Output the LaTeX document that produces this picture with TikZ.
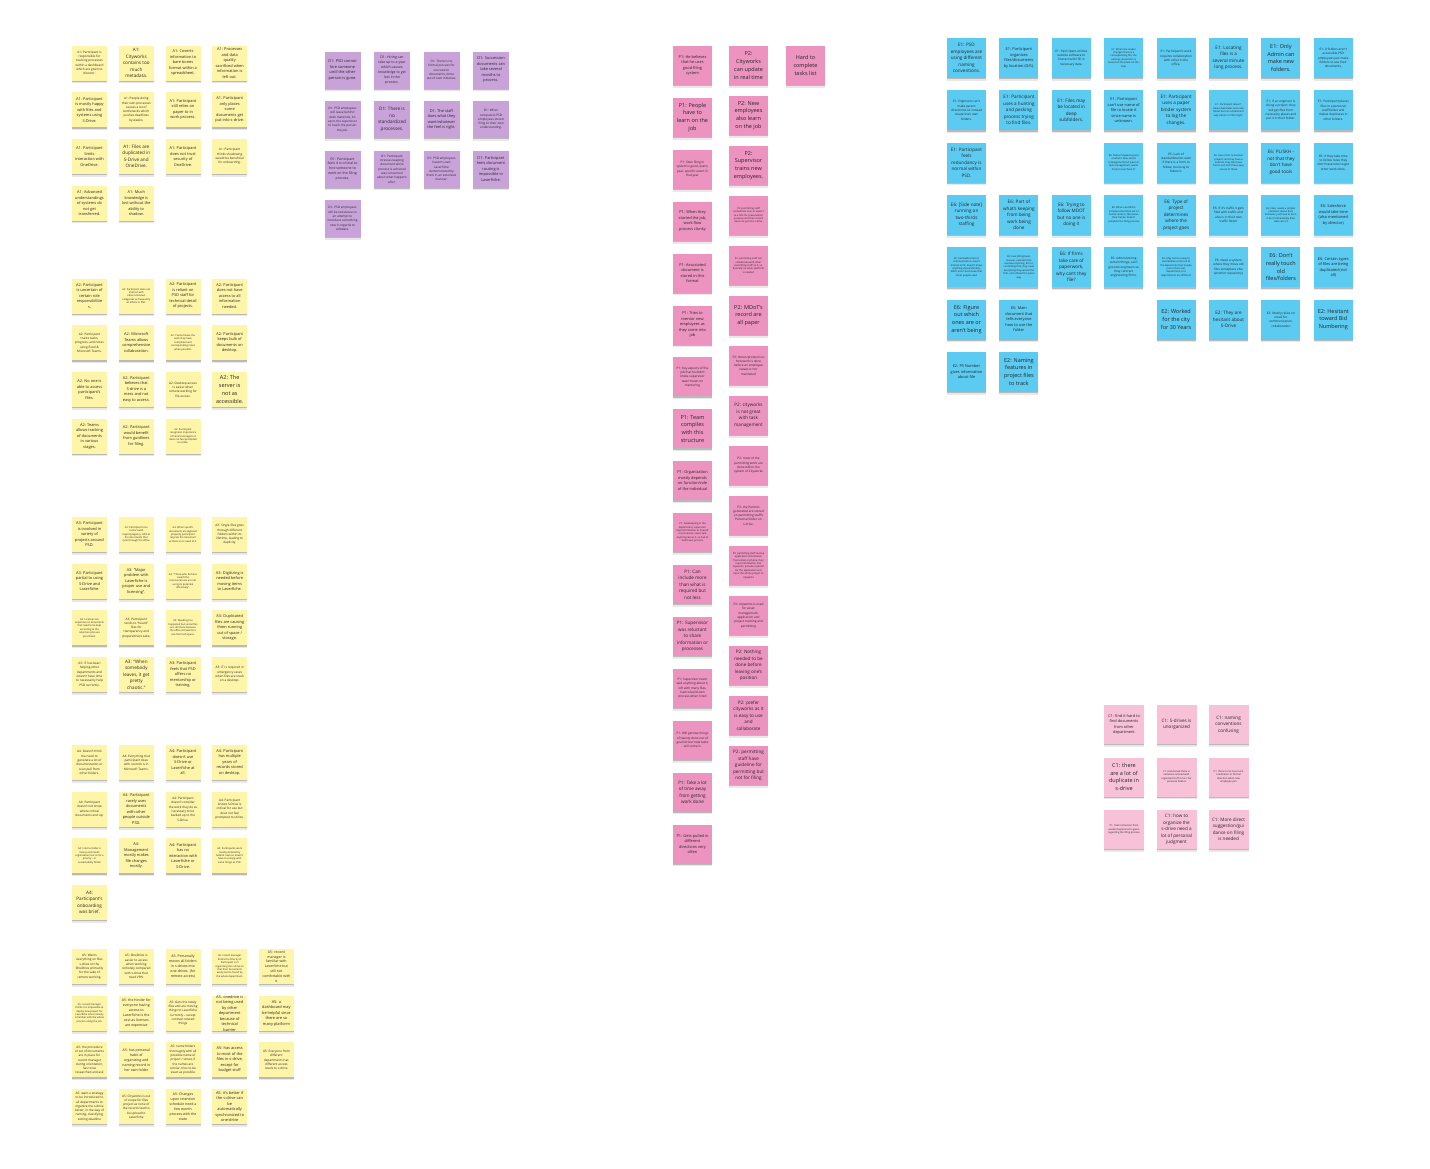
\documentclass[tikz,border=0pt]{standalone}
\usepackage{fontspec}
\setmainfont{Open Sans}
\usetikzlibrary{shadows}
\definecolor{yelc}{HTML}{FFF5A8}
\definecolor{purc}{HTML}{C9A2DA}
\definecolor{pnkc}{HTML}{EC93C0}
\definecolor{bluc}{HTML}{5BCBF2}
\definecolor{lpkc}{HTML}{F7C1D7}
\definecolor{txtc}{HTML}{262626}
\tikzset{
  stnote/.style={inner sep=0pt, text=txtc,
    general shadow={fill=black, opacity=0.09, shadow yshift=-2.8pt},
    general shadow={fill=black, opacity=0.20, shadow yshift=-1.3pt}},
  yel/.style={stnote, fill=yelc, minimum width=35pt, minimum height=35pt},
  pur/.style={stnote, fill=purc, minimum width=36pt, minimum height=37pt},
  pnk/.style={stnote, fill=pnkc, minimum width=39pt, minimum height=39pt},
  blu/.style={stnote, fill=bluc, minimum width=39pt, minimum height=40pt},
  lpk/.style={stnote, fill=lpkc, minimum width=40pt, minimum height=39pt},
  sXL/.style={font=\fontsize{5.5}{7.8}\selectfont},
  sL/.style={font=\fontsize{4.6}{6.5}\selectfont},
  sM/.style={font=\fontsize{3.9}{5.5}\selectfont},
  sMS/.style={font=\fontsize{3.5}{4.9}\selectfont},
  sS/.style={font=\fontsize{3.1}{4.3}\selectfont},
  sT/.style={font=\fontsize{2.5}{3.4}\selectfont},
}
\newcommand\stY[5]{\node[yel,#4] (#1) at (#2,#3) {\parbox[c][32pt][c]{29pt}{\centering\hyphenpenalty=10000 #5}};}
\newcommand\stPu[5]{\node[pur,#4] (#1) at (#2,#3) {\parbox[c][34pt][c]{30pt}{\centering\hyphenpenalty=10000 #5}};}
\newcommand\stPk[5]{\node[pnk,#4] (#1) at (#2,#3) {\parbox[c][36pt][c]{32pt}{\centering\hyphenpenalty=10000 #5}};}
\newcommand\stBl[5]{\node[blu,#4] (#1) at (#2,#3) {\parbox[c][37pt][c]{32pt}{\centering\hyphenpenalty=10000 #5}};}
\newcommand\stLp[5]{\node[lpk,#4] (#1) at (#2,#3) {\parbox[c][36pt][c]{33pt}{\centering\hyphenpenalty=10000 #5}};}
\begin{document}
\begin{tikzpicture}[x=1pt,y=-1pt]
\fill[white] (0,0) rectangle (1430,1168);
\useasboundingbox (0,0) rectangle (1430,1168);
% ---------- A1 ----------
\stY{a11}{89.5}{63}{sS}{A1: Participant is responsible for tracking processes within a dashboard which are given to director.}
\stY{a12}{136.3}{63}{sL}{A1: Cityworks contains too much metadata.}
\stY{a13}{183}{63}{sM}{A1: Coverts information to bare bones format within a spreadsheet.}
\stY{a14}{229.7}{63}{sM}{A1: Processes and data quality sacrificed when information is left out.}
\stY{a15}{89.5}{109.7}{sM}{A1: Participant is mostly happy with files and systems using S-Drive.}
\stY{a16}{136.3}{109.7}{sS}{A1: People doing their own processes causes a lot of bottlenecks which pushes deadlines by weeks.}
\stY{a17}{183}{109.7}{sM}{A1: Participant still relies on paper to in work process.}
\stY{a18}{229.7}{109.7}{sM}{A1: Participant only places some documents get put into s-drive.}
\stY{a19}{89.5}{156.4}{sM}{A1: Participant limits interaction with OneDrive.}
\stY{a110}{136.3}{156.4}{sL}{A1: Files are duplicated in S-Drive and OneDrive.}
\stY{a111}{183}{156.4}{sM}{A1: Participant does not trust security of OneDrive.}
\stY{a112}{229.7}{156.4}{sS}{A1: Participant thinks shadowing would be beneficial for onboarding.}
\stY{a113}{89.5}{203.1}{sM}{A1: Advanced understandings of systems do not get transferred.}
\stY{a114}{136.3}{203.1}{sM}{A1: Much knowledge is lost without the ability to shadow.}
% ---------- A2 ----------
\stY{a21}{89.5}{296}{sM}{A2: Participant is uncertain of certain role responsibilitie\\s.}
\stY{a22}{136.3}{296}{sT}{A2: Participant does not interact with other/unknown categories as frequently as others in PSD.}
\stY{a23}{183}{296}{sM}{A2: Participant is reliant on PSD staff for technical detail of projects.}
\stY{a24}{229.7}{296}{sM}{A2: Participant does not have access to all information needed.}
\stY{a25}{89.5}{342.7}{sS}{A2: Participant tracks tasks, progress, and notes using Excel \& Microsoft Teams.}
\stY{a26}{136.3}{342.7}{sM}{A2: Microsoft Teams allows comprehensive collaboration.}
\stY{a27}{183}{342.7}{sT}{A2: Cannot leave the work they have completed and corresponding notes when possible.}
\stY{a28}{229.7}{342.7}{sM}{A2: Participant keeps bulk of documents on desktop.}
\stY{a29}{89.5}{389.4}{sM}{A2: No one is able to access participant's files.}
\stY{a210}{136.3}{389.4}{sM}{A2: Participant believes that S-drive is a mess and not easy to access.}
\stY{a211}{183}{389.4}{sS}{A2: Desktop access is easier when remote working for file access.}
\stY{a212}{229.7}{389.4}{sXL}{A2: The server is not as accessible.}
\stY{a213}{89.5}{436.1}{sM}{A2: Teams allows tracking of documents in various stages.}
\stY{a214}{136.3}{436.1}{sM}{A2: Participant would benefit from guidlines for filing.}
\stY{a215}{183}{436.1}{sT}{A2: Participant recognizes importance of Central storage but does not feel prompted to utilize.}
% ---------- A3 ----------
\stY{a31}{89.5}{534.5}{sM}{A3: Participant is involved in variety of projects around PSD.}
\stY{a32}{136.3}{534.5}{sT}{A3: Participant tries contact with majority/agency. 80\% of the documents that cycle through the office.}
\stY{a33}{183}{534.5}{sT}{A3: When specific documents are digitized properly, participant recycles the document as there is no need of it.}
\stY{a34}{229.7}{534.5}{sS}{A3: Single files goes through different folders within its lifetime, leading to duplicity.}
\stY{a35}{89.5}{581.2}{sM}{A3: Participant partial to using S-Drive and Laserfiche.}
\stY{a36}{136.3}{581.2}{sM}{A3: “Major problem with Laserfiche is proper use and licensing”.}
\stY{a37}{183}{581.2}{sT}{A3: “Those who do have Laserfiche licenses/access are not using its potential effectively”.}
\stY{a38}{229.7}{581.2}{sM}{A3: Digitizing is needed before moving items to Laserfiche.}
\stY{a39}{89.5}{627.9}{sT}{A3: Licenses are expensive so documents that need to be kept according to the retention plan are prioritized.}
\stY{a310}{136.3}{627.9}{sS}{A3: Participant tends to “hoard” files for transparency and preparedness sake.}
\stY{a311}{183}{627.9}{sT}{A3: Weeding has happened but some files are still there because the office still wants to use the trash space.}
\stY{a312}{229.7}{627.9}{sM}{A3: Duplicated files are causing them running out of space / storage.}
\stY{a313}{89.5}{674.6}{sS}{A3: IT has been helping other departments and doesn't have time to necessarily help PSD currently.}
\stY{a314}{136.3}{674.6}{sL}{A3: “When somebody leaves, it get pretty chaotic.”}
\stY{a315}{183}{674.6}{sM}{A3: Participant feels that PSD offers no mentorship or training.}
\stY{a316}{229.7}{674.6}{sS}{A3: IT is required in emergency cases when files are stuck on a desktop.}
% ---------- A4 ----------
\stY{a41}{89.5}{762.5}{sS}{A4: Doesn't think the need to generate a lot of documentation or scan pull from other folders.}
\stY{a42}{136.3}{762.5}{sS}{A4: Everything that participant does with records is in Microsoft Teams.}
\stY{a43}{183}{762.5}{sM}{A4: Participant doesn't use S-Drive or Laserfiche at all.}
\stY{a44}{229.7}{762.5}{sM}{A4: Participant has multiple years of records stored on desktop.}
\stY{a45}{89.5}{809.2}{sS}{A4: Participant doesn't not know where critical documents end up.}
\stY{a46}{136.3}{809.2}{sM}{A4: Participant rarely uses documents with other people outside PSD.}
\stY{a47}{183}{809.2}{sS}{A4: Participant doesn't consider the work they do as necessary to be backed up to the S-Drive.}
\stY{a48}{229.7}{809.2}{sS}{A4: Participant knows S-Drive is critical for use but does not feel prompted to utilize.}
\stY{a49}{89.5}{855.9}{sT}{A4: Interns folder is messy and needs organization but is not a priority -- in sustainability folder}
\stY{a410}{136.3}{855.9}{sM}{A4: Management mostly makes file changes mostly.}
\stY{a411}{183}{855.9}{sM}{A4: Participant has no interaction with Laserfiche or S-Drive.}
\stY{a412}{229.7}{855.9}{sT}{A4: Participants work mostly dictated by federal rules so doesn't have to comply with same things as PSD.}
\stY{a413}{89.5}{902.6}{sL}{A4: Participant's onboarding was brief.}
% ---------- A5 ----------
\stY{a51}{89.5}{966.5}{sS}{A5: Wants everything on files s-drive on the OneDrive primarily for the sake of remote working.}
\stY{a52}{136.3}{966.5}{sS}{A5: OneDrive is easier to access when working remotely compared with s-drive that need VPN.}
\stY{a53}{183}{966.5}{sMS}{A5: Personally moves all folders in s-drives into one-drives. (for remote access)}
\stY{a54}{229.7}{966.5}{sT}{A5: record manager thinks the Priority of Participant is in organizing the s-drive so that their documents easily can be found by the whole department.}
\stY{a55}{276.4}{966.5}{sMS}{A5: record manager is familiar with Laserfiche but still not comfortable with it.}
\stY{a56}{89.5}{1013.2}{sT}{A5: record manager thinks it is impossible to deploy new project for Laserfiche since nobody is familiar with the whole process along the job.}
\stY{a57}{136.3}{1013.2}{sMS}{A5: the hinder for everyone having access to Laserfiche is the cost as licenses are expensive}
\stY{a58}{183}{1013.2}{sS}{A5: Gets the newly files and are moving things to Laserfiche currently -- except contract related things}
\stY{a59}{229.7}{1013.2}{sM}{A5: onedrive is not being used by other department because of technical barrier}
\stY{a510}{276.4}{1013.2}{sM}{A5: a dashboard may be helpful since there are so many platform}
\stY{a511}{89.5}{1059.9}{sS}{A5: the procedure or set of documents are in place for record manager during orientation, has to be researched and ask}
\stY{a512}{136.3}{1059.9}{sMS}{A5: has personal habit of organizing and naming record in her own folder}
\stY{a513}{183}{1059.9}{sS}{A5: name folders thoroughly with all possible name of project / street, if the names are similar, tries to be exact as possible}
\stY{a514}{229.7}{1059.9}{sM}{A5: has access to most of the files in s-drive, except for budget stuff}
\stY{a515}{276.4}{1059.9}{sS}{A5: Everyone from different departments has different access levels to s-drive}
\stY{a516}{89.5}{1106.6}{sS}{A5: want a strategy to be introduced to all departments to organize the s-drive better, in the way of naming, classifying, setting deadline}
\stY{a517}{136.3}{1106.6}{sS}{A5: Cityworks is out of scope for files project as none of the record need to be upload to Laserfiche}
\stY{a518}{183}{1106.6}{sMS}{A5: Changes upon retention schedule need a few month process with the state}
\stY{a519}{229.7}{1106.6}{sM}{A5: it's better if the s-drive can be automatically synchronized to one-drive}
% ---------- D1 ----------
\stPu{d1}{342.5}{70}{sM}{D1: PSD cannot hire someone until the other person is gone.}
\stPu{d2}{392}{70}{sMS}{D1: Hiring can take up to a year which causes knowledge to get lost in the process.}
\stPu{d3}{441.5}{70}{sS}{D1: There is no formal process for succession documents, done out of own initiative.}
\stPu{d4}{491}{70}{sM}{D1: Succession documents can take several months to process.}
\stPu{d5}{342.5}{119.5}{sS}{D1: PSD employees will leave behind desk materials, it's up to the supervisor to teach the person the job.}
\stPu{d6}{392}{119.5}{sL}{D1: There is no standardized processes.}
\stPu{d7}{441.5}{119.5}{sM}{D1: The staff does what they want/whatever the feel is right.}
\stPu{d8}{491}{119.5}{sS}{D1: When computers PSD employees stored filing to their own understanding.}
\stPu{d9}{342.5}{169}{sMS}{D1: Participant feels it is critical to hire someone to work on the filing process.}
\stPu{d10}{392}{169}{sS}{D1: Participant stresses keeping document while process is achieved was concerned about what happens after.}
\stPu{d11}{441.5}{169}{sS}{D1: PSD employees haven't used Laserfiche demonstrated by them in an extensive manner.}
\stPu{d12}{491}{169}{sM}{D1: Participant feels document routing is impossible in Laserfiche.}
\stPu{d13}{342.5}{218.5}{sS}{D1: PSD employees will be resistance to an attempt to introduce something new in regards to software.}
% ---------- P1 ----------
\stPk{p11}{692.5}{65.5}{sM}{P1: He believes that he uses good filing system}
\stPk{p12}{692.5}{117.4}{sXL}{P1: People have to learn on the job}
\stPk{p13}{692.5}{169.3}{sS}{P1: Own filing in system is good, event, year, specific event in that year}
\stPk{p14}{692.5}{221.2}{sM}{P1: When they started the job, work flow process clunky}
\stPk{p15}{692.5}{273.1}{sM}{P1: Associated document is stored in this format}
\stPk{p16}{692.5}{325}{sM}{P1: Tries to mentor new employees as they come into job}
\stPk{p17}{692.5}{376.9}{sS}{P1: Key aspects of the job that he didn't know, supervisor wasn't keen on mentoring}
\stPk{p18}{692.5}{428.8}{sXL}{P1: Team compiles with this structure}
\stPk{p19}{692.5}{480.7}{sM}{P1: Organization mostly depends on function/role of the individual}
\stPk{p110}{692.5}{532.6}{sT}{P1: Gatekeeping in the department, supervisor kept information to oneself or processes, never said anything about it, so had to build own process}
\stPk{p111}{692.5}{584.5}{sL}{P1: Can include more than what is required but not less}
\stPk{p112}{692.5}{636.4}{sL}{P1: Supervisor was reluctant to share information or processes}
\stPk{p113}{692.5}{688.3}{sS}{P1: Supervisor never said anything about it, left with many files, had to build own process when hired}
\stPk{p114}{692.5}{740.2}{sS}{P1: Will get two things of twenty done out of goal list but new tasks will come in}
\stPk{p115}{692.5}{792.1}{sL}{P1: Take a lot of time away from getting work done}
\stPk{p116}{692.5}{844}{sM}{P1: Gets pulled in different directions very often}
% ---------- P2 ----------
\stPk{p21}{748.5}{65.5}{sXL}{P2: Cityworks can update in real time}
\stPk{p22}{748.5}{115.5}{sXL}{P2: New employees also learn on the job}
\stPk{p23}{748.5}{165.5}{sXL}{P2: Supervisor trains new employees.}
\stPk{p24}{748.5}{215.5}{sT}{P2: permitting staff sometimes scan or export to a PDF for preservation purpose and then record does not get into s-drive}
\stPk{p25}{748.5}{265.5}{sT}{P2: permitting staff can collaborate with other permitting staff on it, so basically no other platform is needed}
\stPk{p26}{748.5}{315.5}{sXL}{P2: MDoT's record are all paper}
\stPk{p27}{748.5}{365.5}{sS}{P2: Notes/protocol on how work is done before an employee leaves is not mandated}
\stPk{p28}{748.5}{415.5}{sL}{P2: cityworks is not great with task management}
\stPk{p29}{748.5}{465.5}{sS}{P2: most of the permitting work are done within the system of Cityworks}
\stPk{p210}{748.5}{515.5}{sS}{P2: the Permits generated are stored on permitting staff's Personal folder on s-drive.}
\stPk{p211}{748.5}{565.5}{sT}{P2: permitting staff receive application information from email or phone, then input information into cityworks, provide a permit for the application and input the whole project to cityworks}
\stPk{p212}{748.5}{615.5}{sS}{P2: cityworks is used for asset management, application and project tracking and permitting}
\stPk{p213}{748.5}{665.5}{sL}{P2: Nothing needed to be done before leaving one's position}
\stPk{p214}{748.5}{715.5}{sL}{P2: prefer cityworks as it is easy to use and collaborate}
\stPk{p215}{748.5}{765.5}{sL}{P2: permitting staff have guideline for permitting but not for filing}
\stPk{p31}{805.5}{65.5}{sXL}{Hard to complete tasks list}
% ---------- E ----------
\stBl{b11}{966.5}{58}{sL}{E1: PSD employees are using different naming conventions.}
\stBl{b12}{1018.9}{58}{sM}{E1: Participant organizes files/documents by location (GIS).}
\stBl{b13}{1071.3}{58}{sS}{E1: Participant utilizes outside software to interact with/ fill in necessary data.}
\stBl{b14}{1123.7}{58}{sT}{E1: When she makes changes there is a corresponding file, the naming convention is based on the place on the map.}
\stBl{b15}{1176.1}{58}{sS}{E1: Participant's work requires collaboration with other in the office.}
\stBl{b16}{1228.5}{58}{sL}{E1: Locating files is a several minute long process.}
\stBl{b17}{1280.9}{58}{sXL}{E1: Only Admin can make new folders.}
\stBl{b18}{1333.3}{58}{sS}{E1: If folders aren't accessible PSD employees just make folders to use their documents.}
\stBl{b21}{966.5}{110.3}{sS}{E1: Engineers can't make parent directories so instead create their own folders.}
\stBl{b22}{1018.9}{110.3}{sL}{E1: Participant uses a hunting and pecking process trying to find files.}
\stBl{b23}{1071.3}{110.3}{sL}{E1: Files may be located in deep subfolders.}
\stBl{b24}{1123.7}{110.3}{sM}{E1: Participant can't use name of file to locate it since name is unknown.}
\stBl{b25}{1176.1}{110.3}{sL}{E1: Participant uses a paper binder system to log the changes.}
\stBl{b26}{1228.5}{110.3}{sT}{E1: Participant doesn't create duplicates onto own folder but can understand why others in PSD might.}
\stBl{b27}{1280.9}{110.3}{sS}{E1: If an engineer is doing a project, they will get files from necessary places and put it in their folder.}
\stBl{b28}{1333.3}{110.3}{sS}{E1: Participant places files in a personal staff folder and makes duplicates in other folders.}
\stBl{b31}{966.5}{162.6}{sL}{E1: Participant feels redundancy is normal within PSD.}
\stBl{b34}{1123.7}{162.6}{sT}{E6: Notes Cityworks good at what it does (asset management) but poor at task management, wants Andy to purchase it?}
\stBl{b35}{1176.1}{162.6}{sS}{E6: Lack of standardization even if there is a form to follow, too busy to follow it.}
\stBl{b36}{1228.5}{162.6}{sT}{E6: Use a firm to oversee projects and they have a method, they also have forms and don't have easy access to those}
\stBl{b37}{1280.9}{162.6}{sL}{E6: PL/SKH - not that they don't have good tools}
\stBl{b38}{1333.3}{162.6}{sS}{E6: If they take time to follow rules they don't have time to get other work done.}
\stBl{b41}{966.5}{214.9}{sL}{E6: [Side note] running on two-thirds staffing}
\stBl{b42}{1018.9}{214.9}{sL}{E6: Part of what's keeping from being work being done}
\stBl{b43}{1071.3}{214.9}{sL}{E6: Trying to follow MDOT but no one is doing it}
\stBl{b44}{1123.7}{214.9}{sT}{E6: When Laserfiche introduced another set of hands came in, files leave their hands, doesn't complete the filing process}
\stBl{b45}{1176.1}{214.9}{sL}{E6: Type of project determines where the project goes}
\stBl{b46}{1228.5}{214.9}{sS}{E6: If it's traffic it gets filed with traffic and also is in their own traffic folder}
\stBl{b47}{1280.9}{214.9}{sT}{E6: Idea: needs a simpler standard, about their behavior, just have to do it, if do it immediately then take care of}
\stBl{b48}{1333.3}{214.9}{sM}{E6: Salesforce would take time (also mentioned by director)}
\stBl{b51}{966.5}{267.2}{sT}{E6: Somewhat lack of communication, wasn't trained in PE, doesn't know anything about Monday, didn't use it but knows that other people used}
\stBl{b52}{1018.9}{267.2}{sT}{E6: Everything been manual, outside firms oversee anything, firm is controlling that, they need everything they would the firm, and utilized the same way}
\stBl{b53}{1071.3}{267.2}{sL}{E6: If firms take care of paperwork, why can't they file?}
\stBl{b54}{1123.7}{267.2}{sS}{E6: Administering certain things, can't get own engineers so they contract engineering firms.}
\stBl{b55}{1176.1}{267.2}{sT}{E6: May not be a way to standardize across all of the department but maybe just in their own department, but departments are different}
\stBl{b56}{1228.5}{267.2}{sS}{E6: Need a system where they move old files someplace else (another repository)}
\stBl{b57}{1280.9}{267.2}{sXL}{E6: Don't really touch old files/folders}
\stBl{b58}{1333.3}{267.2}{sM}{E6: Certain types of files are being duplicated (not all)}
\stBl{b61}{966.5}{319.5}{sXL}{E6: Figure out which ones are or aren't being}
\stBl{b62}{1018.9}{319.5}{sM}{E6: Main document that tells everyone how to use the folder}
\stBl{b65}{1176.1}{319.5}{sXL}{E2: Worked for the city for 30 Years}
\stBl{b66}{1228.5}{319.5}{sL}{E2: They are hesitant about S-Drive}
\stBl{b67}{1280.9}{319.5}{sS}{E2: Mostly relies on email for communication, collaboration}
\stBl{b68}{1333.3}{319.5}{sXL}{E2: Hesitant toward Bid Numbering}
\stBl{b71}{966.5}{371.8}{sM}{E2: PS Number gives information about file}
\stBl{b72}{1018.9}{371.8}{sXL}{E2: Naming features in project files to track}
% ---------- C1 ----------
\stLp{c1}{1124}{724.5}{sM}{C1: find it hard to find documents from other department}
\stLp{c2}{1176.5}{724.5}{sL}{C1: S-drives is unorganized}
\stLp{c3}{1228.5}{724.5}{sL}{C1: naming conventions confusing}
\stLp{c4}{1124}{777}{sXL}{C1: there are a lot of duplicate in s-drive}
\stLp{c5}{1176.5}{777}{sT}{C1: mentioned there is someone noticed with organized stuff in his / her personal folders}
\stLp{c6}{1228.5}{777}{sT}{C1: there is not too much orientation or formal direction when new employee join}
\stLp{c7}{1124}{829.5}{sT}{C1: Oral instruction from worker/supervisor is given regarding the filing process}
\stLp{c8}{1176.5}{829.5}{sL}{C1: how to organize the s-drive need a lot of personal judgment}
\stLp{c9}{1228.5}{829.5}{sL}{C1: More direct suggestion/gui\\dance on filing is needed}
\end{tikzpicture}
\end{document}
